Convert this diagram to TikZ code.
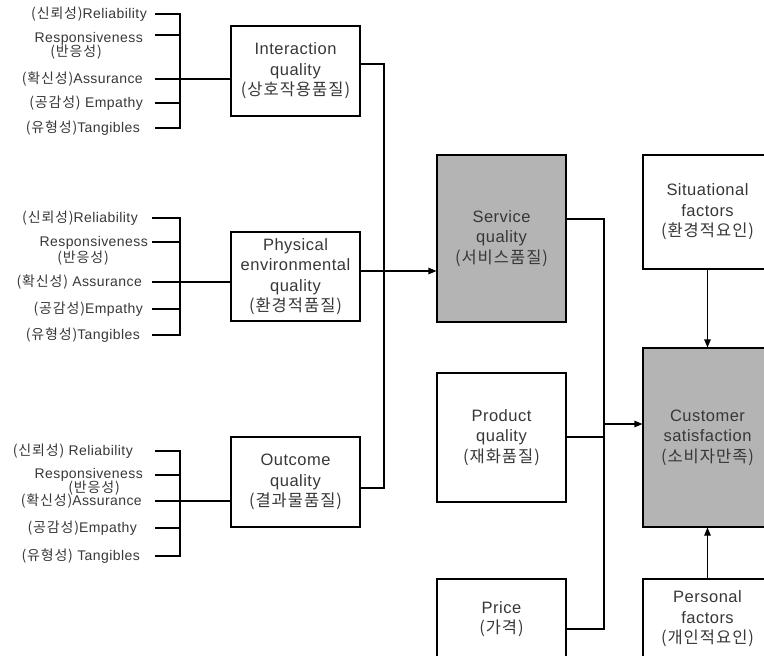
\documentclass[tikz,border=0pt]{standalone}
\usepackage{fontspec}
\setmainfont{Liberation Sans}[LetterSpace=3]
\newfontfamily\kr{Noto Sans CJK KR}[LetterSpace=6]
\usetikzlibrary{arrows.meta}
\definecolor{boxgray}{RGB}{180,180,180}
\definecolor{ink}{RGB}{55,55,55}
\newcommand\K[1]{{\kr #1}}
\begin{document}
\begin{tikzpicture}[x=1pt,y=-1pt,
  box/.style={draw=black,line width=1.1pt,minimum width=129pt,inner sep=2pt,align=center,font=\fontsize{16.5}{20.5}\selectfont,text=ink},
  gbox/.style={box,fill=boxgray},
  lbl/.style={anchor=east,inner sep=0pt,font=\fontsize{14}{14}\selectfont,text=ink},
  lbl2/.style={inner sep=0pt,font=\fontsize{14}{14}\selectfont,text=ink},
  ln/.style={line width=1.1pt},
  arr/.style={ln,-{Triangle[length=8pt,width=6.5pt]}}]
\clip (0,0) rectangle (764,656);
% boxes
\node[box,minimum height=90pt] (int) at (295.5,71) {Interaction\\quality\\\K{(상호작용품질)}};
\node[box,minimum height=89pt] (phys) at (295.5,276.5) {Physical\\environmental\\quality\\\K{(환경적품질)}};
\node[box,minimum height=90pt] (out) at (295.5,482) {Outcome\\quality\\\K{(결과물품질)}};
\node[gbox,minimum height=167pt] (svc) at (501.5,238.5) {Service\\quality\\\K{(서비스품질)}};
\node[box,minimum height=129pt] (prod) at (501.5,437.5) {Product\\quality\\\K{(재화품질)}};
\node[box,minimum height=80pt] (price) at (501.5,619) {Price\\\K{(가격)}};
\node[box,minimum height=114pt] (sit) at (707.5,212) {Situational\\factors\\\K{(환경적요인)}};
\node[gbox,minimum height=179pt] (cust) at (707.5,437.5) {Customer\\satisfaction\\\K{(소비자만족)}};
\node[box,minimum height=80pt] (pers) at (707.5,619) {Personal\\factors\\\K{(개인적요인)}};
% group 1
\coordinate (bar) at (180,0);
\coordinate (s1) at (155,0);
\coordinate (s2) at (152,0);
\node[lbl] (r1) at (147,14) {\K{(신뢰성)}Reliability};
\node[lbl] (p1) at (143,39) {Responsiveness};
\node[lbl2] (k1) at (76,52) {\K{(반응성)}};
\node[lbl] (a1) at (143,79) {\K{(확신성)}Assurance};
\node[lbl] (e1) at (143,103) {\K{(공감성)} Empathy};
\node[lbl] (t1) at (140,128) {\K{(유형성)}Tangibles};
\draw[ln] (r1.east -| s1) -- (r1.east -| bar) -- (t1.east -| bar) -- (t1.east -| s1);
\draw[ln] ([yshift=4pt]p1.east -| s1) -- ([yshift=4pt]p1.east -| bar);
\draw[ln] (e1.east -| s1) -- (e1.east -| bar);
\draw[ln] (a1.east -| s1) -- (a1.east -| int.west);
% group 2
\node[lbl] (r2) at (138,218) {\K{(신뢰성)}Reliability};
\node[lbl] (p2) at (148,243) {Responsiveness};
\node[lbl2] (k2) at (83,258) {\K{(반응성)}};
\node[lbl] (a2) at (142,282) {\K{(확신성)} Assurance};
\node[lbl] (e2) at (143,309) {\K{(공감성)}Empathy};
\node[lbl] (t2) at (140,335) {\K{(유형성)}Tangibles};
\draw[ln] (r2.east -| s2) -- (r2.east -| bar) -- (t2.east -| bar) -- (t2.east -| s2);
\draw[ln] ([yshift=1pt]p2.east -| s2) -- ([yshift=1pt]p2.east -| bar);
\draw[ln] (e2.east -| s2) -- (e2.east -| bar);
\draw[ln] (a2.east -| s2) -- (a2.east -| phys.west);
% group 3
\node[lbl] (r3) at (133,451) {\K{(신뢰성)} Reliability};
\node[lbl] (p3) at (143,475) {Responsiveness};
\node[lbl2] (k3) at (94,488) {\K{(반응성)}};
\node[lbl] (a3) at (142,501) {\K{(확신성)}Assurance};
\node[lbl] (e3) at (137,528) {\K{(공감성)}Empathy};
\node[lbl] (t3) at (140,556) {\K{(유형성)} Tangibles};
\draw[ln] (r3.east -| s1) -- (r3.east -| bar) -- (t3.east -| bar) -- (t3.east -| s1);
\draw[ln] (p3.east -| s1) -- (p3.east -| bar);
\draw[ln] (e3.east -| s1) -- (e3.east -| bar);
\draw[ln] (a3.east -| s1) -- (a3.east -| out.west);
% connectors
\coordinate (jL) at (384,0);
\coordinate (jR) at (604,0);
\draw[ln] ([yshift=7pt]int.east) -- ([yshift=7pt]int.east -| jL) -- ([yshift=-6pt]out.east -| jL) -- ([yshift=-6pt]out.east);
\draw[arr] ([yshift=5.5pt]phys.east) -- ([yshift=5.5pt]phys.east -| svc.west);
\draw[ln] ([yshift=19.5pt]svc.east) -- ([yshift=19.5pt]svc.east -| jR) -- ([yshift=-10pt]price.east -| jR) -- ([yshift=-10pt]price.east);
\draw[ln] ([yshift=0.5pt]prod.east) -- ([yshift=0.5pt]prod.east -| jR);
\draw[arr] ([yshift=13.5pt]cust.west -| jR) -- ([yshift=13.5pt]cust.west);
\draw[arr] (sit.south) -- (cust.north);
\draw[arr] (pers.north) -- (cust.south);
\end{tikzpicture}
\end{document}
